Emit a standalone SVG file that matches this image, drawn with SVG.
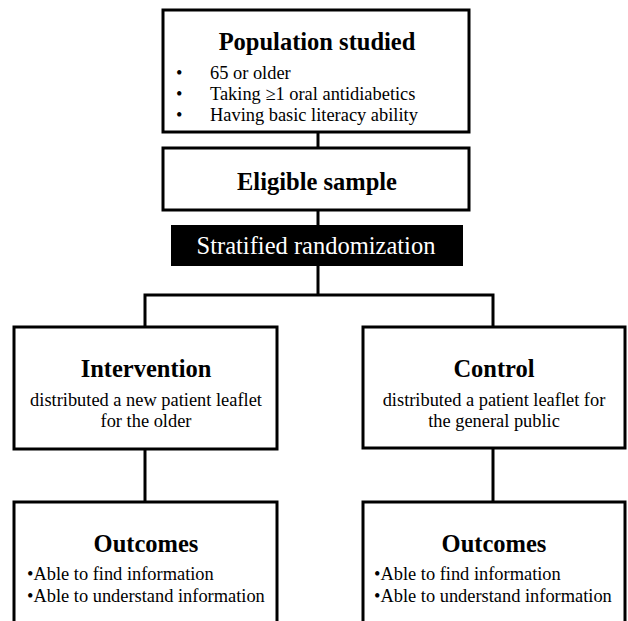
<svg xmlns="http://www.w3.org/2000/svg" width="628" height="621" viewBox="0 0 628 621">
<style>
.box{fill:#fff;stroke:#000;stroke-width:3}
.ln{fill:none;stroke:#000;stroke-width:3}
text{font-family:"Liberation Serif","Times New Roman",serif;fill:#000}
.h{font-size:24.5px;font-weight:bold;text-anchor:middle}
.t{font-size:18.4px}
.c{text-anchor:middle}
</style>
<rect width="628" height="621" fill="#fff"/>
<g id="connectors">
<path class="ln" d="M318 132V148"/>
<path class="ln" d="M318 210V225"/>
<path class="ln" d="M318 266V295"/>
<path class="ln" d="M145 327V295H493V327"/>
<path class="ln" d="M145 449V502"/>
<path class="ln" d="M493 449V502"/>
</g>
<g id="population">
<rect class="box" x="163" y="10" width="306" height="122"/>
<text class="h" x="317" y="50">Population studied</text>
<text class="t" x="176" y="79">•</text><text class="t" x="210" y="79">65 or older</text>
<text class="t" x="176" y="100">•</text><text class="t" x="210" y="100">Taking ≥1 oral antidiabetics</text>
<text class="t" x="176" y="121">•</text><text class="t" x="210" y="121">Having basic literacy ability</text>
</g>
<g id="eligible">
<rect class="box" x="163" y="148" width="306" height="62"/>
<text class="h" x="317" y="190">Eligible sample</text>
</g>
<g id="randomization">
<rect x="171" y="225" width="292" height="41" fill="#000"/>
<text x="316" y="254" style="font-size:24.5px;fill:#fff;text-anchor:middle">Stratified randomization</text>
</g>
<g id="intervention">
<rect class="box" x="14" y="327" width="263" height="122"/>
<text class="h" x="146" y="377">Intervention</text>
<text class="t c" x="146" y="406">distributed a new patient leaflet</text>
<text class="t c" x="146" y="427">for the older</text>
</g>
<g id="control">
<rect class="box" x="363" y="327" width="262" height="121"/>
<text class="h" x="494" y="377">Control</text>
<text class="t c" x="494" y="406">distributed a patient leaflet for</text>
<text class="t c" x="494" y="427">the general public</text>
</g>
<g id="outcomes-left">
<rect class="box" x="14" y="502" width="263" height="130"/>
<text class="h" x="146" y="552">Outcomes</text>
<text class="t" x="27" y="580">•Able to find information</text>
<text class="t" x="27" y="602">•Able to understand information</text>
</g>
<g id="outcomes-right">
<rect class="box" x="363" y="502" width="262" height="130"/>
<text class="h" x="494" y="552">Outcomes</text>
<text class="t" x="374" y="580">•Able to find information</text>
<text class="t" x="374" y="602">•Able to understand information</text>
</g>
</svg>
